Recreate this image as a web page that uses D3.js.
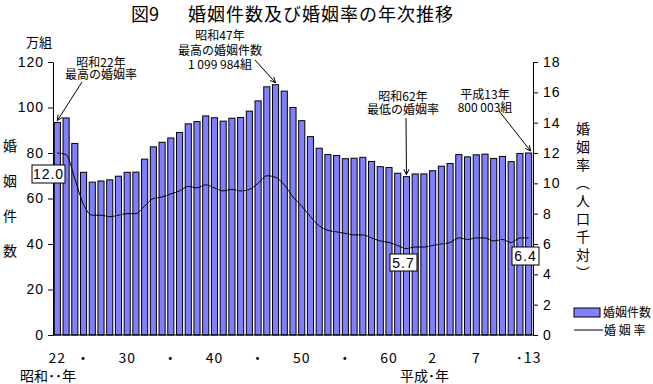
<!DOCTYPE html>
<html>
<head>
<meta charset="utf-8">
<script src="https://cdn.jsdelivr.net/npm/d3@7/dist/d3.min.js"></script>
<style>
  body { margin: 0; background: #fff; }
  svg { display: block; font-family: "Noto Sans CJK JP", sans-serif; }
</style>
</head>
<body>
<div id="chart"></div>
<script>
// 年次 (昭和22年 = 1947 ～ 平成13年 = 2001)
var years = [1947, 1948, 1949, 1950, 1951, 1952, 1953, 1954, 1955, 1956,
    1957, 1958, 1959, 1960, 1961, 1962, 1963, 1964, 1965, 1966,
    1967, 1968, 1969, 1970, 1971, 1972, 1973, 1974, 1975, 1976,
    1977, 1978, 1979, 1980, 1981, 1982, 1983, 1984, 1985, 1986,
    1987, 1988, 1989, 1990, 1991, 1992, 1993, 1994, 1995, 1996,
    1997, 1998, 1999, 2000, 2001];

// 婚姻件数 (万組)
var marriages = [93.4, 95.4, 84.2, 71.5, 67.2, 67.7, 68.2, 69.8, 71.5, 71.6,
    77.3, 82.7, 84.7, 86.6, 89.0, 92.8, 93.8, 96.3, 95.5, 94.0,
    95.3, 95.6, 98.4, 102.9, 109.1, 110.0, 107.2, 100.0, 94.2, 87.2,
    82.1, 79.3, 78.9, 77.5, 77.7, 78.1, 76.3, 74.0, 73.6, 71.1,
    69.6, 70.8, 70.8, 72.2, 74.2, 75.4, 79.3, 78.3, 79.2, 79.5,
    77.6, 78.5, 76.2, 79.8, 80.0];

// 婚姻率 (人口千対)
var rates = [12.0, 11.9, 10.3, 8.6, 7.9, 7.9, 7.8, 7.9, 8.0, 8.0,
    8.5, 9.0, 9.1, 9.3, 9.5, 9.8, 9.7, 9.9, 9.7, 9.5,
    9.6, 9.5, 9.6, 10.0, 10.5, 10.4, 9.9, 9.1, 8.5, 7.8,
    7.2, 6.9, 6.8, 6.7, 6.6, 6.6, 6.4, 6.2, 6.1, 5.9,
    5.7, 5.8, 5.8, 5.9, 6.0, 6.1, 6.4, 6.3, 6.4, 6.4,
    6.2, 6.3, 6.1, 6.4, 6.4];

var leftTicks = [0, 20, 40, 60, 80, 100, 120];
var rightTicks = [0, 2, 4, 6, 8, 10, 12, 14, 16, 18];
var xTickYears = [1947, 1950, 1955, 1960, 1965, 1970, 1975, 1980, 1985, 1990, 1995, 2001];
var xTickLabels = ["22", "・", "30", "・", "40", "・", "50", "・", "60", "2", "7", "･13"];

// 値ラベル
var valueLabels = [
    { year: 1947, text: "12.0" },
    { year: 1987, text: "5.7" },
    { year: 2001, text: "6.4" }
];

var width = 653, height = 384;
var plotLeft = 53, plotRight = 533, plotTop = 62, plotBottom = 335;

var svg = d3.select("#chart").append("svg")
    .attr("width", width)
    .attr("height", height);

var x = d3.scaleBand()
    .domain(years)
    .range([plotLeft, plotRight])
    .paddingInner(0.3)
    .paddingOuter(0.15);

var yL = d3.scaleLinear().domain([0, 120]).range([plotBottom, plotTop]);
var yR = d3.scaleLinear().domain([0, 18]).range([plotBottom, plotTop]);

var cx = function (yr) { return x(yr) + x.bandwidth() / 2; };

// title
svg.append("text")
    .attr("x", 131).attr("y", 21)
    .attr("font-size", 18)
    .text("図9");
svg.append("text")
    .attr("x", 188).attr("y", 21)
    .attr("font-size", 18)
    .attr("letter-spacing", 1)
    .text("婚姻件数及び婚姻率の年次推移");

// bars
svg.append("g")
    .selectAll("rect")
    .data(years)
    .enter()
    .append("rect")
    .attr("x", function (d) { return x(d); })
    .attr("y", function (d, i) { return yL(marriages[i]); })
    .attr("width", x.bandwidth())
    .attr("height", function (d, i) { return plotBottom - yL(marriages[i]); })
    .attr("fill", "#8080ff")
    .attr("stroke", "#000")
    .attr("stroke-width", 1);

// rate line
var line = d3.line()
    .x(function (d, i) { return cx(years[i]); })
    .y(function (d) { return yR(d); })
    .curve(d3.curveMonotoneX);

svg.append("path")
    .datum(rates)
    .attr("d", line)
    .attr("fill", "none")
    .attr("stroke", "#000")
    .attr("stroke-width", 1);

// axes
var axL = svg.append("g")
    .attr("transform", "translate(" + plotLeft + ",0)")
    .call(d3.axisLeft(yL).tickValues(leftTicks).tickSize(5).tickSizeOuter(0).tickPadding(4));
var axR = svg.append("g")
    .attr("transform", "translate(" + plotRight + ",0)")
    .call(d3.axisRight(yR).tickValues(rightTicks).tickSize(5).tickSizeOuter(0).tickPadding(5));
[axL, axR].forEach(function (ax) {
    ax.selectAll("text").attr("font-size", 14).attr("font-family", "Liberation Sans, sans-serif")
        .attr("letter-spacing", 1).attr("fill", "#000");
    ax.selectAll("line, path").attr("stroke", "#000");
});

svg.append("line")
    .attr("x1", plotLeft).attr("x2", plotRight)
    .attr("y1", plotBottom).attr("y2", plotBottom)
    .attr("stroke", "#000");

// x tick labels
svg.append("g")
    .selectAll("text")
    .data(xTickYears)
    .enter()
    .append("text")
    .attr("x", function (d) { return cx(d); })
    .attr("y", 363)
    .attr("text-anchor", "middle")
    .attr("font-size", 14)
    .attr("letter-spacing", 1)
    .text(function (d, i) { return xTickLabels[i]; });

svg.append("text").attr("x", 20).attr("y", 381).attr("font-size", 14).text("昭和･･年");
svg.append("text").attr("x", 400).attr("y", 381).attr("font-size", 14).text("平成･年");

// axis titles
svg.append("text")
    .attr("x", 39).attr("y", 47)
    .attr("text-anchor", "middle")
    .attr("font-size", 13)
    .text("万組");

var leftTitle = ["婚", "姻", "件", "数"];
svg.append("g").selectAll("text")
    .data(leftTitle).enter().append("text")
    .attr("x", 10)
    .attr("y", function (d, i) { return 145 + i * 35; })
    .attr("text-anchor", "middle")
    .attr("dominant-baseline", "central")
    .attr("font-size", 14)
    .text(function (d) { return d; });

var rightTitle = ["婚", "姻", "率", "︵", "人", "口", "千", "対", "︶"];
svg.append("g").selectAll("text")
    .data(rightTitle).enter().append("text")
    .attr("x", 583)
    .attr("y", function (d, i) { return 128 + i * 18; })
    .attr("text-anchor", "middle")
    .attr("dominant-baseline", "central")
    .attr("font-size", 14)
    .text(function (d) { return d; });

// value label boxes
var vl = svg.append("g").selectAll("g")
    .data(valueLabels).enter().append("g");
var boxes = [[32, 165, 33, 18], [390, 254, 27, 17], [512, 247, 27, 18]];
vl.append("rect")
    .attr("x", function (d, i) { return boxes[i][0]; })
    .attr("y", function (d, i) { return boxes[i][1]; })
    .attr("width", function (d, i) { return boxes[i][2]; })
    .attr("height", function (d, i) { return boxes[i][3]; })
    .attr("fill", "#fff")
    .attr("stroke", "#000");
vl.append("text")
    .attr("x", function (d, i) { return boxes[i][0] + boxes[i][2] / 2; })
    .attr("y", function (d, i) { return boxes[i][1] + boxes[i][3] / 2; })
    .attr("text-anchor", "middle")
    .attr("dominant-baseline", "central")
    .attr("font-size", 14)
    .attr("font-family", "Liberation Sans, sans-serif")
    .attr("letter-spacing", 1)
    .text(function (d) { return d.text; });

// annotations (one text block each, lines as tspans)
function note(cxPos, y0, gap, lines) {
    svg.append("text")
        .attr("text-anchor", "middle")
        .attr("dominant-baseline", "central")
        .attr("font-size", 12)
        .selectAll("tspan")
        .data(lines).enter().append("tspan")
        .attr("x", cxPos)
        .attr("y", function (d, i) { return y0 + i * gap; })
        .text(function (d) { return d; });
}
function arrow(x1, y1, x2, y2) {
    var g = svg.append("g").attr("stroke", "#000").attr("fill", "none");
    g.append("line").attr("x1", x1).attr("y1", y1).attr("x2", x2).attr("y2", y2);
    var a = Math.atan2(y2 - y1, x2 - x1), l = 6, s = 0.45;
    g.append("path").attr("d",
        "M" + (x2 - l * Math.cos(a - s)) + "," + (y2 - l * Math.sin(a - s)) +
        "L" + x2 + "," + y2 +
        "L" + (x2 - l * Math.cos(a + s)) + "," + (y2 - l * Math.sin(a + s)));
}

note(101, 61, 12, ["昭和22年", "最高の婚姻率"]);
arrow(82, 82, cx(1947), yL(marriages[0]) - 2);

note(220, 34, 14.5, ["昭和47年", "最高の婚姻件数", "1 099 984組"]);
arrow(255, 60, cx(1972), yL(marriages[25]) - 2);

note(403, 95, 13, ["昭和62年", "最低の婚姻率"]);
arrow(406, 118, cx(1987), yL(marriages[40]) - 2);

note(485, 93, 13, ["平成13年", "800 003組"]);
arrow(499, 111, cx(2001) + 2, yL(marriages[54]) - 2);

// legend
svg.append("rect")
    .attr("x", 574).attr("y", 308).attr("width", 26).attr("height", 9)
    .attr("fill", "#8080ff").attr("stroke", "#000");
svg.append("text").attr("x", 603).attr("y", 317).attr("font-size", 12).text("婚姻件数");
svg.append("line")
    .attr("x1", 574).attr("x2", 603).attr("y1", 330).attr("y2", 330)
    .attr("stroke", "#000");
svg.append("text").attr("x", 604).attr("y", 335).attr("font-size", 12)
    .text("婚 姻 率");
</script>
</body>
</html>
